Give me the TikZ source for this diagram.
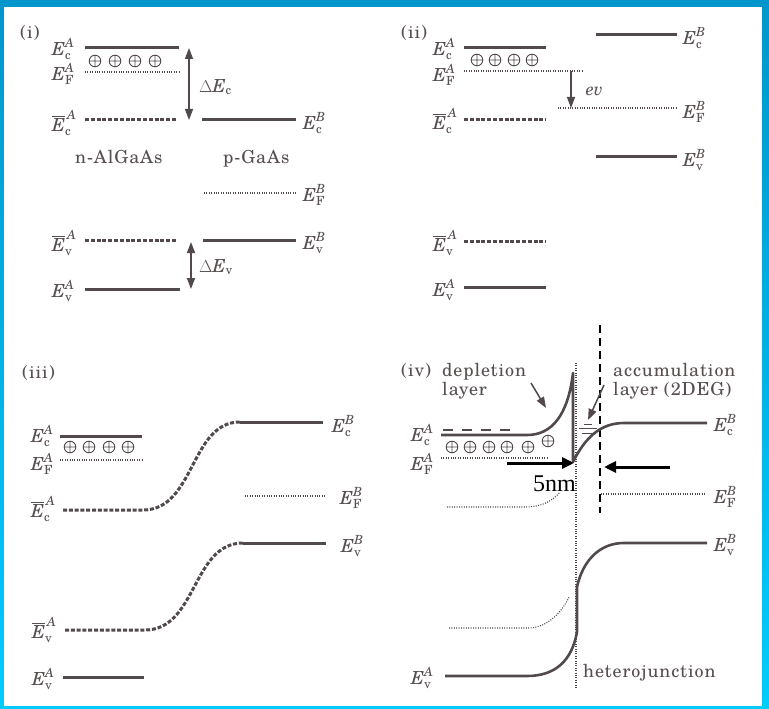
\documentclass[tikz,border=0pt]{standalone}
\usepackage{amsmath}
\usepackage{fontspec}
\IfFontExistsTF{TeX Gyre Schola}{\setmainfont{TeX Gyre Schola}}{\setmainfont{DejaVu Serif}}
\newfontfamily\timesf{Liberation Serif}
\usetikzlibrary{arrows.meta}
\definecolor{bandgray}{RGB}{82,74,74}
\definecolor{txtgray}{RGB}{88,80,80}
\definecolor{frametop}{RGB}{0,150,204}
\definecolor{framebot}{RGB}{0,204,255}
\newcommand{\bandE}[2]{\ensuremath{\textit{E}^{\textit{#2}}_{\textrm{#1}}}}
\newcommand{\bandEbar}[2]{\ensuremath{\overline{\textit{E}}^{\,\textit{#2}}_{\textrm{#1}}}}
\tikzset{
  band/.style={draw=bandgray, line width=3pt},
  bandbar/.style={draw=bandgray, line width=3pt, dash pattern=on 4pt off 1.8pt},
  fermi/.style={draw=bandgray, line width=1.1pt, dash pattern=on 1pt off 1.4pt},
  lbl/.style={text=txtgray, inner sep=0pt, anchor=west, font=\fontsize{18}{20}\selectfont},
  word/.style={text=txtgray, inner sep=0pt, anchor=base west, font=\fontsize{18}{20}\selectfont\addfontfeature{LetterSpace=5}},
  garrow/.style={draw=bandgray, line width=1.5pt, -{Triangle[length=11pt,width=8pt]}},
  gdarrow/.style={draw=bandgray, line width=1.5pt, {Triangle[length=11pt,width=8pt]}-{Triangle[length=11pt,width=8pt]}},
  barrow/.style={draw=black, line width=3pt, -{Triangle[length=12pt,width=11pt]}},
  oplus/.pic={\draw[bandgray, line width=0.9pt] (0,0) circle (5.8pt) (-5.8,0) -- (5.8,0) (0,-5.8) -- (0,5.8);},
}
\begin{document}
\begin{tikzpicture}[x=1pt,y=-1pt]
\useasboundingbox (0,0) rectangle (769,709);
\shade[top color=frametop, bottom color=framebot] (0,0) rectangle (769,709);
\fill[white] (4,7) rectangle (762,706);

% ---------------- panel (i)
\node[word, anchor=west] (tag1) at (20,33) {(i)};
\draw[band] (85,48) -- (179,48);
\foreach \x in {95,115,135,155} \pic at (\x,61) {oplus};
\draw[fermi] (85,72) -- (179,72);
\draw[bandbar] (85,119) -- (177,119);
\draw[band] (202,119) -- (296,119);
\draw[fermi] (204,193) -- (296,193);
\draw[bandbar] (85,240) -- (177,240);
\draw[band] (203,240) -- (296,240);
\draw[band] (85,289) -- (180,289);
\coordinate (dEcT) at (189,48);
\coordinate (dEcB) at (189,120);
\draw[gdarrow] (dEcT) -- (dEcB);
\coordinate (dEvT) at (191,242);
\coordinate (dEvB) at (191,289);
\draw[gdarrow] (dEvT) -- (dEvB);
\node[lbl] (i-EcA) at (52,49) {\bandE{c}{A}};
\node[lbl] (i-EFA) at (52,74) {\bandE{F}{A}};
\node[lbl] (i-dEc) at (199,87) {$\Delta$\textit{E}$_{\textrm{c}}$};
\node[lbl] (i-EcbA) at (52,123) {\bandEbar{c}{A}};
\node[lbl] (i-EcB) at (303,123) {\bandE{c}{B}};
\node[word] (i-n) at (75,163) {n-AlGaAs};
\node[word] (i-p) at (223,163) {p-GaAs};
\node[lbl] (i-EFB) at (303,195) {\bandE{F}{B}};
\node[lbl] (i-EvbA) at (52,243) {\bandEbar{v}{A}};
\node[lbl] (i-EvB) at (303,243) {\bandE{v}{B}};
\node[lbl] (i-dEv) at (199,267) {$\Delta$\textit{E}$_{\textrm{v}}$};
\node[lbl] (i-EvA) at (52,291) {\bandE{v}{A}};

% ---------------- panel (ii)
\node[word, anchor=west] (tag2) at (401,33) {(ii)};
\draw[band] (464,48) -- (546,48);
\foreach \x in {477,495,514,532} \pic at (\x,60) {oplus};
\draw[fermi] (464,71) -- (583,71);
\coordinate (evT) at (571,71);
\coordinate (evB) at (571,108);
\draw[garrow] (evT) -- (evB);
\draw[fermi] (558,108) -- (676,108);
\draw[bandbar] (464,119) -- (546,119);
\draw[band] (596,35) -- (677,35);
\draw[band] (596,156) -- (677,156);
\draw[bandbar] (464,241) -- (546,241);
\draw[band] (464,287) -- (546,287);
\node[lbl] (ii-EcA) at (433,49) {\bandE{c}{A}};
\node[lbl] (ii-EFA) at (433,75) {\bandE{F}{A}};
\node[lbl] (ii-EcB) at (683,38) {\bandE{c}{B}};
\node[lbl] (ii-ev) at (586,91) {\textit{ev}};
\node[lbl] (ii-EFB) at (683,112) {\bandE{F}{B}};
\node[lbl] (ii-EcbA) at (433,121) {\bandEbar{c}{A}};
\node[lbl] (ii-EvB) at (683,160) {\bandE{v}{B}};
\node[lbl] (ii-EvbA) at (433,243) {\bandEbar{v}{A}};
\node[lbl] (ii-EvA) at (433,290) {\bandE{v}{A}};

% ---------------- panel (iii)
\node[word, anchor=west] (tag3) at (22,373) {(iii)};
\draw[band] (60,436) -- (142,436);
\foreach \x in {70,89,109,128} \pic at (\x,447) {oplus};
\draw[fermi] (60,460) -- (142,460);
\draw[bandbar] (63,510) -- (143,510) .. controls (195,510) and (190,422) .. (240,422);
\draw[band] (240,422) -- (323,422);
\draw[fermi] (245,496) -- (325,496);
\draw[bandbar] (65,630) -- (145,630) .. controls (197,630) and (192,543) .. (243,543);
\draw[band] (243,543) -- (326,543);
\draw[band] (63,677) -- (144,677);
\node[lbl] (iii-EcA) at (31,436) {\bandE{c}{A}};
\node[lbl] (iii-EFA) at (31,464) {\bandE{F}{A}};
\node[lbl] (iii-EcbA) at (31,509) {\bandEbar{c}{A}};
\node[lbl] (iii-EcB) at (332,426) {\bandE{c}{B}};
\node[lbl] (iii-EFB) at (340,498) {\bandE{F}{B}};
\node[lbl] (iii-EvB) at (341,546) {\bandE{v}{B}};
\node[lbl] (iii-EvbA) at (32,630) {\bandEbar{v}{A}};
\node[lbl] (iii-EvA) at (32,679) {\bandE{v}{A}};

% ---------------- panel (iv)
\draw[fermi] (576,363) -- (576,688);
\draw[black, line width=2pt, dash pattern=on 8pt off 5pt] (600,325) -- (600,513);
\draw[band, line width=2.6pt, line join=round] (441,435) -- (527,435)
  .. controls (552,435) and (568,415) .. (573,373) -- (573,462)
  .. controls (585,438) and (600,423) .. (624,423) -- (707,423);
\draw[bandgray, line width=1.3pt] (443,430) -- (453,430) (462,430) -- (472,430)
  (481,430) -- (491,430) (500,430) -- (510,430);
\foreach \x in {452,470,489,507,528} \pic at (\x,447) {oplus};
\pic at (548,441) {oplus};
\draw[bandgray, line width=1pt] (584,424) -- (592,424) (579,428) -- (597,428) (582,433) -- (594,433);
\draw[fermi] (441,458) -- (547,458);
\draw[fermi] (447,507) -- (525,507) .. controls (540,507) and (552,502) .. (560,492);
\draw[fermi] (601,494) -- (706,494);
\draw[fermi] (449,628) -- (530,628) .. controls (548,627) and (562,612) .. (569,597);
\draw[band, line width=2.6pt] (445,676) -- (527,676)
  .. controls (556,676) and (572,660) .. (577,632) -- (577,587)
  .. controls (583,560) and (600,543) .. (624,543) -- (707,543);
\coordinate (depT) at (531,383);
\coordinate (depH) at (546,408);
\draw[garrow] (depT) -- (depH);
\coordinate (accT) at (604,385);
\coordinate (accH) at (588,420);
\draw[garrow] (accT) -- (accH);
\coordinate (nmL) at (507,463);
\coordinate (nmR) at (574,463);
\draw[barrow] (nmL) -- (nmR);
\coordinate (acR) at (670,467);
\coordinate (acL) at (604,467);
\draw[barrow] (acR) -- (acL);
\node[word] (tag4) at (401,376) {(iv)};
\node[word] (dep1) at (442,376) {depletion};
\node[word] (dep2) at (442,395) {layer};
\node[word] (acc1) at (613,376) {accumulation};
\node[word] (acc2) at (613,395) {layer (2DEG)};
\node[word] (hj) at (583,677) {heterojunction};
\node[anchor=west, inner sep=0pt, font=\timesf\fontsize{24}{26}\selectfont] (nm) at (533,484) {5nm};
\node[lbl] (iv-EcA) at (411,435) {\bandE{c}{A}};
\node[lbl] (iv-EFA) at (411,464) {\bandE{F}{A}};
\node[lbl] (iv-EcB) at (714,425) {\bandE{c}{B}};
\node[lbl] (iv-EFB) at (714,497) {\bandE{F}{B}};
\node[lbl] (iv-EvB) at (714,545) {\bandE{v}{B}};
\node[lbl] (iv-EvA) at (411,678) {\bandE{v}{A}};
\end{tikzpicture}
\end{document}
